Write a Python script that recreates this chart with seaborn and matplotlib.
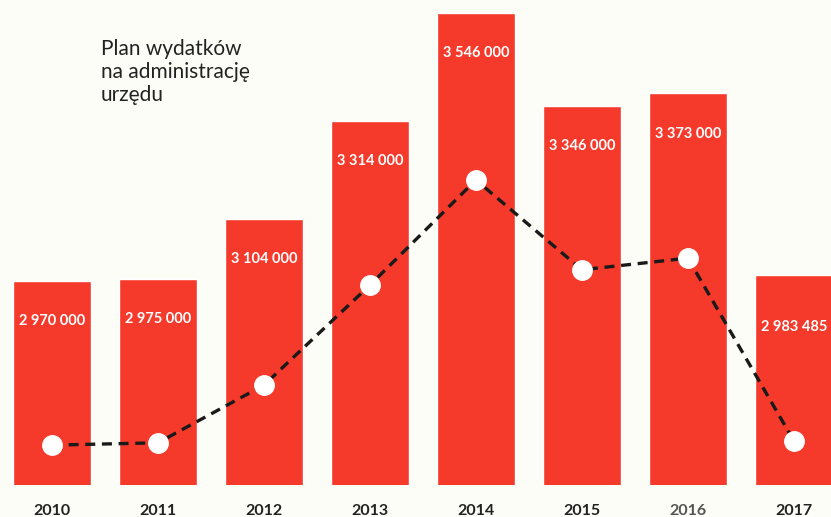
import numpy as np
import pandas as pd
import seaborn as sns
import matplotlib.pyplot as plt

# dane
years = ['2010', '2011', '2012', '2013', '2014', '2015', '2016', '2017']
plan = [2970000, 2975000, 3104000, 3314000, 3546000, 3346000, 3373000, 2983485]
labels = ['2 970 000', '2 975 000', '3 104 000', '3 314 000',
          '3 546 000', '3 346 000', '3 373 000', '2 983 485']
# linia przerywana
trend = [2617000, 2622000, 2746000, 2961000, 3187000, 2994000, 3019000, 2626000]

df = pd.DataFrame({'rok': years, 'plan': plan})

sns.set_style('white')
plt.rcParams['font.family'] = ['Lato', 'DejaVu Sans']

fig = plt.figure(figsize=(8.31, 5.17), dpi=100, facecolor='#fdfdf8')
ax = fig.add_axes([0, 32 / 517, 1, 472 / 517])
ax.set_facecolor('#fdfdf8')

sns.barplot(data=df, x='rok', y='plan', color='#f53a2c', saturation=1,
            width=0.73, ax=ax)

x = np.arange(len(years))
ax.plot(x, trend, color='#1a1a1a', lw=2.4, ls=(0, (3, 2)), zorder=3)
ax.plot(x, trend, 'o', ms=14, color='white', zorder=4)

for i, (v, t) in enumerate(zip(plan, labels)):
    off = -38 if i == len(plan) - 1 else -29
    ax.annotate(t, (i, v), xytext=(0, off), textcoords='offset points',
                ha='center', va='center', color='white', fontsize=10.5,
                fontweight='bold')

ax.set_ylim(2531300, 3546000)
ax.set_xlim(-0.49, 7.35)
ax.set_xlabel('')
ax.set_ylabel('')
ax.set_yticks([])
ax.tick_params(axis='x', length=0, pad=14, labelsize=11.5, labelcolor='#222222')
for lab in ax.get_xticklabels():
    lab.set_fontweight('bold')
ax.get_xticklabels()[6].set_color('#555555')
sns.despine(ax=ax, left=True, bottom=True)

fig.text(101 / 831, 1 - 39 / 517, 'Plan wydatków\nna administrację\nurzędu',
         ha='left', va='top', fontsize=15, color='#222222', linespacing=1.18)

fig.savefig('out.png', dpi=100, facecolor=fig.get_facecolor())
